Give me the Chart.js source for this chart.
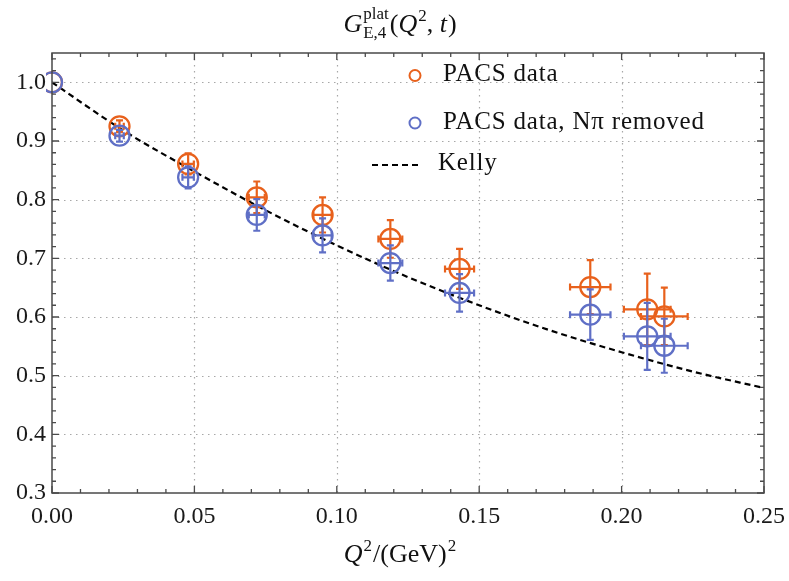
<!DOCTYPE html>
<html>
<head>
<meta charset="utf-8">
<script src="https://cdn.jsdelivr.net/npm/chart.js@4.4.0/dist/chart.umd.min.js"></script>
<style>
  body { margin: 0; background: #fff; }
  #wrap { width: 789px; height: 581px; position: relative; }
</style>
</head>
<body>
<div id="wrap"><canvas id="formFactorChart"></canvas></div>
<script>
// Q^2 in GeV^2 and its uncertainty (same for both sets)
const q2Values = [0, 0.0237, 0.0478, 0.0719, 0.0950, 0.1188, 0.1431, 0.1890, 0.2090, 0.2150];
const q2Errors = [0, 0.0015, 0.0020, 0.0028, 0.0032, 0.0042, 0.0051, 0.0071, 0.0082, 0.0082];

// PACS data
const pacsValues = [1.000, 0.925, 0.861, 0.804, 0.774, 0.733, 0.682, 0.651, 0.613, 0.601];
const pacsErrors = [0, 0.010, 0.018, 0.027, 0.030, 0.032, 0.034, 0.046, 0.061, 0.049];

// PACS data, N pi removed
const npiValues = [1.000, 0.909, 0.838, 0.774, 0.739, 0.692, 0.641, 0.604, 0.567, 0.551];
const npiErrors = [0, 0.010, 0.019, 0.027, 0.029, 0.030, 0.032, 0.043, 0.057, 0.046];

// Kelly curve
const kellyQ2 = [0, 0.025, 0.05, 0.075, 0.10, 0.125, 0.15, 0.175, 0.20, 0.225, 0.25];
const kellyG = [1.000, 0.918, 0.848, 0.782, 0.722, 0.668, 0.620, 0.577, 0.540, 0.507, 0.479];

const xTickValues = [0, 0.05, 0.10, 0.15, 0.20, 0.25];
const yTickValues = [0.3, 0.4, 0.5, 0.6, 0.7, 0.8, 0.9, 1.0];

const orange = '#e8611c';
const blue = '#5f6fc6';
const serif = '"Liberation Serif", "DejaVu Serif", serif';

function toPoints(xs, ys) {
  return xs.map((x, i) => ({ x: x, y: ys[i] }));
}

// error bars, drawn right after each point set
const errorBars = {
  id: 'errorBars',
  afterDatasetDraw(chart, args) {
    const ds = chart.data.datasets[args.index];
    if (!ds.yErr) return;
    const { ctx, scales: { x, y } } = chart;
    ctx.save();
    ctx.strokeStyle = ds.borderColor;
    ctx.lineWidth = 2.2;
    const cap = 3.5;
    ds.data.forEach((p, i) => {
      const px = x.getPixelForValue(p.x);
      const py = y.getPixelForValue(p.y);
      const ey = ds.yErr[i], ex = ds.xErr[i];
      if (ey > 0) {
        const y1 = y.getPixelForValue(p.y - ey), y2 = y.getPixelForValue(p.y + ey);
        ctx.beginPath();
        ctx.moveTo(px, y1); ctx.lineTo(px, y2);
        ctx.moveTo(px - cap, y1); ctx.lineTo(px + cap, y1);
        ctx.moveTo(px - cap, y2); ctx.lineTo(px + cap, y2);
        ctx.stroke();
      }
      if (ex > 0) {
        const x1 = x.getPixelForValue(p.x - ex), x2 = x.getPixelForValue(p.x + ex);
        ctx.beginPath();
        ctx.moveTo(x1, py); ctx.lineTo(x2, py);
        ctx.moveTo(x1, py - cap); ctx.lineTo(x1, py + cap);
        ctx.moveTo(x2, py - cap); ctx.lineTo(x2, py + cap);
        ctx.stroke();
      }
    });
    ctx.restore();
  }
};

// draw a run of text pieces, returns the width
function drawPieces(ctx, pieces, x, base, draw) {
  let cx = x;
  pieces.forEach(p => {
    ctx.font = p.f;
    const w = ctx.measureText(p.t).width;
    if (draw) ctx.fillText(p.t, cx + (p.dx || 0), base + (p.dy || 0));
    if (p.adv !== false) cx += w + (p.dx || 0);
  });
  return cx - x;
}

const frameAndText = {
  id: 'frameAndText',
  beforeDatasetsDraw(chart) {
    const { ctx, chartArea: a, scales: { x, y } } = chart;
    ctx.save();
    ctx.strokeStyle = '#a8a8a8';
    ctx.lineWidth = 1.2;
    ctx.setLineDash([1.5, 4.5]);
    xTickValues.slice(1, -1).forEach(v => {
      const px = Math.round(x.getPixelForValue(v)) + 0.5;
      ctx.beginPath(); ctx.moveTo(px, a.top); ctx.lineTo(px, a.bottom); ctx.stroke();
    });
    yTickValues.slice(1).forEach(v => {
      const py = Math.round(y.getPixelForValue(v)) + 0.5;
      ctx.beginPath(); ctx.moveTo(a.left, py); ctx.lineTo(a.right, py); ctx.stroke();
    });
    ctx.restore();
  },
  afterDraw(chart) {
    const { ctx, chartArea: a, scales: { x, y } } = chart;
    ctx.save();
    // frame
    ctx.strokeStyle = '#4a4a4a';
    ctx.lineWidth = 1.5;
    ctx.strokeRect(a.left, a.top, a.right - a.left, a.bottom - a.top);
    // inward ticks on all four sides
    ctx.lineWidth = 1.3;
    ctx.beginPath();
    for (let i = 0; i <= 25; i++) {
      const px = x.getPixelForValue(i / 100);
      const len = i % 5 === 0 ? 7 : 4;
      ctx.moveTo(px, a.bottom); ctx.lineTo(px, a.bottom - len);
      ctx.moveTo(px, a.top); ctx.lineTo(px, a.top + len);
    }
    for (let i = 15; i <= 52; i++) {
      const py = y.getPixelForValue(i / 50);
      const len = i % 5 === 0 ? 7 : 4;
      ctx.moveTo(a.left, py); ctx.lineTo(a.left + len, py);
      ctx.moveTo(a.right, py); ctx.lineTo(a.right - len, py);
    }
    ctx.stroke();

    ctx.fillStyle = '#111';
    ctx.textBaseline = 'alphabetic';
    ctx.textAlign = 'left';
    // title G^plat_{E,4}(Q^2, t)
    const big = '26px ' + serif, bigI = 'italic 26px ' + serif, small = '17px ' + serif;
    const title = [
      { t: 'G', f: bigI },
      { t: 'E,4', f: small, dx: 1, dy: 6, adv: false },
      { t: 'plat', f: small, dx: 1, dy: -13 },
      { t: '(', f: big, dx: 1 },
      { t: 'Q', f: bigI },
      { t: '2', f: small, dx: 1, dy: -11 },
      { t: ', ', f: big },
      { t: 't', f: bigI },
      { t: ')', f: big, dx: 1 }
    ];
    const tw = drawPieces(ctx, title, 0, 0, false);
    drawPieces(ctx, title, 400 - tw / 2, 32, true);
    // x axis title Q^2/(GeV)^2
    const xt = [
      { t: 'Q', f: bigI },
      { t: '2', f: small, dx: 1, dy: -11 },
      { t: '/(GeV)', f: big, dx: 1 },
      { t: '2', f: small, dx: 1, dy: -11 }
    ];
    const xw = drawPieces(ctx, xt, 0, 0, false);
    drawPieces(ctx, xt, 400 - xw / 2, 562, true);

    // legend
    ctx.setLineDash([]);
    ctx.lineWidth = 2;
    ctx.strokeStyle = orange;
    ctx.beginPath(); ctx.arc(415, 75.5, 5.5, 0, Math.PI * 2); ctx.stroke();
    ctx.strokeStyle = blue;
    ctx.beginPath(); ctx.arc(415, 123, 5.5, 0, Math.PI * 2); ctx.stroke();
    ctx.strokeStyle = '#000';
    ctx.lineWidth = 2.2;
    ctx.setLineDash([6, 4]);
    ctx.beginPath(); ctx.moveTo(372, 165); ctx.lineTo(420, 165); ctx.stroke();
    ctx.font = '25px ' + serif;
    ctx.letterSpacing = '0.8px';
    ctx.fillText('PACS data', 443, 81);
    ctx.fillText('PACS data, N\u03c0 removed', 443, 129);
    ctx.fillText('Kelly', 438, 170);
    ctx.restore();
  }
};

const tickFont = { family: serif, size: 24 };

new Chart(document.getElementById('formFactorChart'), {
  type: 'scatter',
  data: {
    datasets: [
      {
        label: 'Kelly',
        data: toPoints(kellyQ2, kellyG),
        showLine: true,
        borderColor: '#000',
        borderWidth: 2.2,
        borderDash: [6, 4],
        pointRadius: 0,
        cubicInterpolationMode: 'monotone',
        order: 3
      },
      {
        label: 'PACS data',
        data: toPoints(q2Values, pacsValues),
        xErr: q2Errors,
        yErr: pacsErrors,
        borderColor: orange,
        backgroundColor: 'rgba(0,0,0,0)',
        pointRadius: 10,
        pointBorderWidth: 2.3,
        clip: 6,
        order: 2
      },
      {
        label: 'PACS data, N\u03c0 removed',
        data: toPoints(q2Values, npiValues),
        xErr: q2Errors,
        yErr: npiErrors,
        borderColor: blue,
        backgroundColor: 'rgba(0,0,0,0)',
        pointRadius: 10,
        pointBorderWidth: 2.3,
        clip: 6,
        order: 1
      }
    ]
  },
  options: {
    animation: false,
    responsive: true,
    maintainAspectRatio: false,
    layout: { padding: { top: 53, right: 25, left: 0, bottom: 0 } },
    plugins: {
      legend: { display: false },
      tooltip: { enabled: false }
    },
    scales: {
      x: {
        type: 'linear',
        min: 0,
        max: 0.25,
        afterBuildTicks: s => { s.ticks = xTickValues.map(v => ({ value: v })); },
        afterFit: s => { s.height = 88; s.paddingLeft = 0; s.paddingRight = 0; },
        grid: { display: false, drawTicks: false },
        border: { display: false },
        ticks: { font: tickFont, color: '#1a1a1a', padding: 9, maxRotation: 0, callback: v => v.toFixed(2) }
      },
      y: {
        type: 'linear',
        min: 0.3,
        max: 1.05,
        afterBuildTicks: s => { s.ticks = yTickValues.map(v => ({ value: v })); },
        afterFit: s => { s.width = 52; s.paddingTop = 0; s.paddingBottom = 0; },
        grid: { display: false, drawTicks: false },
        border: { display: false },
        ticks: { font: tickFont, color: '#1a1a1a', padding: 6, callback: v => v.toFixed(1) }
      }
    }
  },
  plugins: [errorBars, frameAndText]
});
</script>
</body>
</html>
